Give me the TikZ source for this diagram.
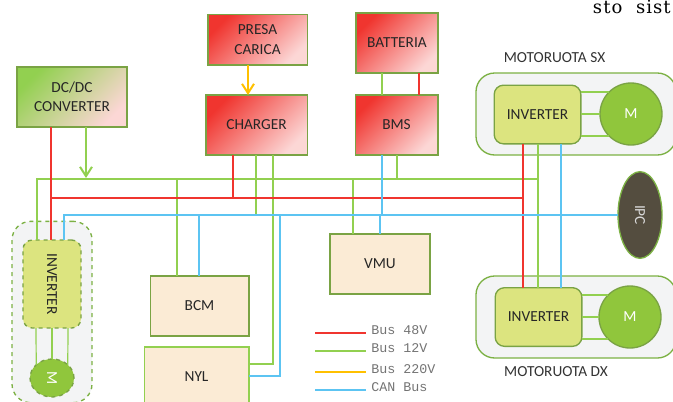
\documentclass[tikz,border=0pt]{standalone}
\usepackage{fontspec}
\usepackage{graphicx}
\setsansfont{Carlito}
\setmonofont{Liberation Mono}
\newfontfamily\cutfont[LetterSpace=6]{DejaVu Serif}
\usepackage{tikz}
\usetikzlibrary{positioning,shapes,arrows.meta,shadows,calc}
\definecolor{evRed}{HTML}{F0352F}
\definecolor{evGreen}{HTML}{92D050}
\definecolor{evYellow}{HTML}{FFC000}
\definecolor{evBlue}{HTML}{5CC4F2}
\definecolor{evEdge}{HTML}{7AA344}
\definecolor{evInv}{HTML}{DCE47F}
\definecolor{evMotor}{HTML}{90C63C}
\definecolor{evTan}{HTML}{FBEBD5}
\definecolor{evMix}{HTML}{DDAA85}
\definecolor{evPanel}{HTML}{F3F4F5}
\definecolor{evIpc}{HTML}{544D3F}
\tikzset{
    evBoxBase/.style={
        rectangle,
        draw=evEdge,
        line width=1pt,
        outer sep=0pt,
        font=\fontsize{11.5}{14.5}\selectfont\sffamily,
        align=center,
        text=black!85
    },
    % Semantic Variants
    power/.style={evBoxBase, top color=evRed, middle color=evRed!62!white, bottom color=evRed!20!white, shading angle=45, drop shadow={opacity=0.2, shadow xshift=0.5pt, shadow yshift=-0.5pt}},
    conv/.style={evBoxBase, top color=evGreen, middle color=evMix, bottom color=evRed!20!white, shading angle=45, drop shadow={opacity=0.2, shadow xshift=0.5pt, shadow yshift=-0.5pt}},
    ctrl/.style={evBoxBase, fill=evTan},
    inv/.style={evBoxBase, fill=evInv, rounded corners=7pt},
    motor/.style={evBoxBase, circle, fill=evMotor, text=white, minimum size=46.5pt, inner sep=0pt},
    panel/.style={draw=evGreen!85!black, line width=1pt, fill=evPanel, rounded corners=14pt, outer sep=0pt},
    wheelLabel/.style={font=\fontsize{11.5}{14}\selectfont\sffamily, text=black!80},
    % Arrows
    bus48/.style={draw=evRed, line width=1.5pt},
    bus12/.style={draw=evGreen, line width=1.5pt},
    bus12thin/.style={draw=evGreen, line width=0.9pt},
    bus220/.style={draw=evYellow, line width=1.5pt},
    busCan/.style={draw=evBlue, line width=0.85pt}
}
\begin{document}
\begin{tikzpicture}[x=0.75pt, y=-0.75pt]
\clip (0,0) rectangle (673,401);
\useasboundingbox (0,0) rectangle (673,401);

% Wheel panels
\node[panel, minimum width=150pt, minimum height=61.5pt] (panelSX) at (576,114) {};
\node[panel, minimum width=150pt, minimum height=61.5pt] (panelDX) at (576,317) {};
\node[panel, dashed, minimum width=60pt, minimum height=136pt] (panelL) at (52,312) {};

% Power blocks
\node[conv, minimum width=82.5pt, minimum height=45pt] (dcdc) at (72,97) {DC/DC\\CONVERTER};
\node[power, minimum width=74.5pt, minimum height=38pt] (presa) at (257.5,39.5) {PRESA\\CARICA};
\node[power, minimum width=76pt, minimum height=45pt] (charger) at (256.5,125) {CHARGER};
\node[power, minimum width=61.5pt, minimum height=45pt] (batteria) at (397,43) {BATTERIA};
\node[power, minimum width=62pt, minimum height=45pt] (bms) at (396.5,125) {BMS};

% Control blocks
\node[ctrl, minimum width=75pt, minimum height=45pt] (vmu) at (380,264) {VMU};
\node[ctrl, minimum width=74pt, minimum height=45pt] (bcm) at (199.5,306) {BCM};
\node[ctrl, draw=evGreen, minimum width=78.5pt, minimum height=45pt] (nyl) at (196.5,377) {NYL};
\node[evBoxBase, ellipse, draw=evGreen!85!black, fill=evIpc, text=white!85!black, minimum width=33pt, minimum height=65pt, inner sep=0pt] (ipc) at (640,215) {\rotatebox{-90}{IPC}};

% Inverters and motors
\node[inv, minimum width=65pt, minimum height=44pt] (invSX) at (537.5,114.5) {INVERTER};
\node[inv, minimum width=65pt, minimum height=44pt] (invDX) at (538.5,317) {INVERTER};
\node[inv, dashed, minimum width=43.5pt, minimum height=66pt] (invL) at (52,284) {\rotatebox{-90}{INVERTER}};
\node[motor] (mSX) at (631,114) {M};
\node[motor] (mDX) at (630,317) {M};
\node[evBoxBase, ellipse, dashed, fill=evMotor, text=white, inner sep=0pt, minimum width=33pt, minimum height=28.5pt] (mL) at (52,378) {\rotatebox{-90}{M}};

\node[wheelLabel] (labSX) at (554.5,58) {MOTORUOTA SX};
\node[wheelLabel] (labDX) at (556,372) {MOTORUOTA DX};
\node[font=\fontsize{13.5}{14}\selectfont\cutfont, text=black, anchor=base east, inner sep=0pt] (cutText) at (671,13) {sto\ \ sist};

% Bus junctions
\coordinate (g1) at (37,179);
\coordinate (g2) at (538,179);
\coordinate (r1) at (51,198);
\coordinate (r2) at (523,198);
\coordinate (c1) at (64,215);
\coordinate (gNyl) at (273,364);
\coordinate (cNyl) at (280,376);

% Bus 12V
\draw[bus12] (g1 |- invL.north) -- (g1) -- (g2);
\draw[bus12] (invSX.south -| g2) -- (invDX.north -| g2);
\draw[bus12, -{Straight Barb[length=7pt, width=9pt]}] (dcdc.south -| 86,0) -- (86,178);
\draw[bus12] (bcm.north -| 177,0) -- (177,179);
\draw[bus12] (vmu.north -| 353,0) -- (353,179);
\draw[bus12] (bms.south -| 397,0) -- (397,179);
\draw[bus12] (charger.south -| gNyl) -- (gNyl) -- (gNyl -| nyl.east);
\draw[bus12thin] (charger.south -| 256,0) -- (256,215);
\draw[bus12thin] (batteria.south -| 382,0) -- (bms.north -| 382,0);

% Bus 48V
\draw[bus48] (dcdc.south -| r1) -- (r1 |- invL.north);
\draw[bus48] (r1) -- (r2);
\draw[bus48] (invSX.south -| r2) -- (invDX.north -| r2);
\draw[bus48] (charger.south -| 233,0) -- (233,198);
\draw[bus48] (batteria.south -| 419,0) -- (bms.north -| 419,0);

% CAN
\draw[busCan] (c1 |- invL.north) -- (c1) -- (c1 -| ipc.west);
\draw[busCan] (bcm.north -| 199,0) -- (199,215);
\draw[busCan] (vmu.north -| 380,0) -- (380,215);
\draw[busCan] (bms.south -| 382,0) -- (382,215);
\draw[busCan] (invSX.south -| 561,0) -- (invDX.north -| 561,0);
\draw[busCan] (280,215) -- (cNyl) -- (cNyl -| nyl.east);

% Bus 220V
\draw[bus220, -{Straight Barb[length=7pt, width=9pt]}] (presa.south -| 248,0) -- (charger.north -| 248,0);

% Motor phases
\foreach \m/\i in {mSX/invSX, mDX/invDX} {
    \draw[bus12thin] (\m.135 -| \i.east) -- (\m.135);
    \draw[bus12thin] (\m.west -| \i.east) -- (\m.west);
    \draw[bus12thin] (\m.225 -| \i.east) -- (\m.225);
}
\draw[bus12thin] (invL.south -| 36,0) -- (mL.140);
\draw[bus12thin] (invL.south) -- (mL.north);
\draw[bus12thin] (invL.south -| 68,0) -- (mL.40);

% Legend
\foreach \n/\s/\y/\t in {a/bus48/333/Bus 48V, b/bus12/351/Bus 12V, c/bus220/372/Bus 220V, d/busCan/390/CAN Bus} {
    \coordinate (leg\n) at (315,\y);
    \node[font=\fontsize{10}{12}\selectfont\ttfamily, text=black!55, anchor=west, inner sep=0pt] (txt\n) at (371,\y-3) {\t};
    \draw[\s] (leg\n) -- (366,\y);
}
\end{tikzpicture}
\end{document}
